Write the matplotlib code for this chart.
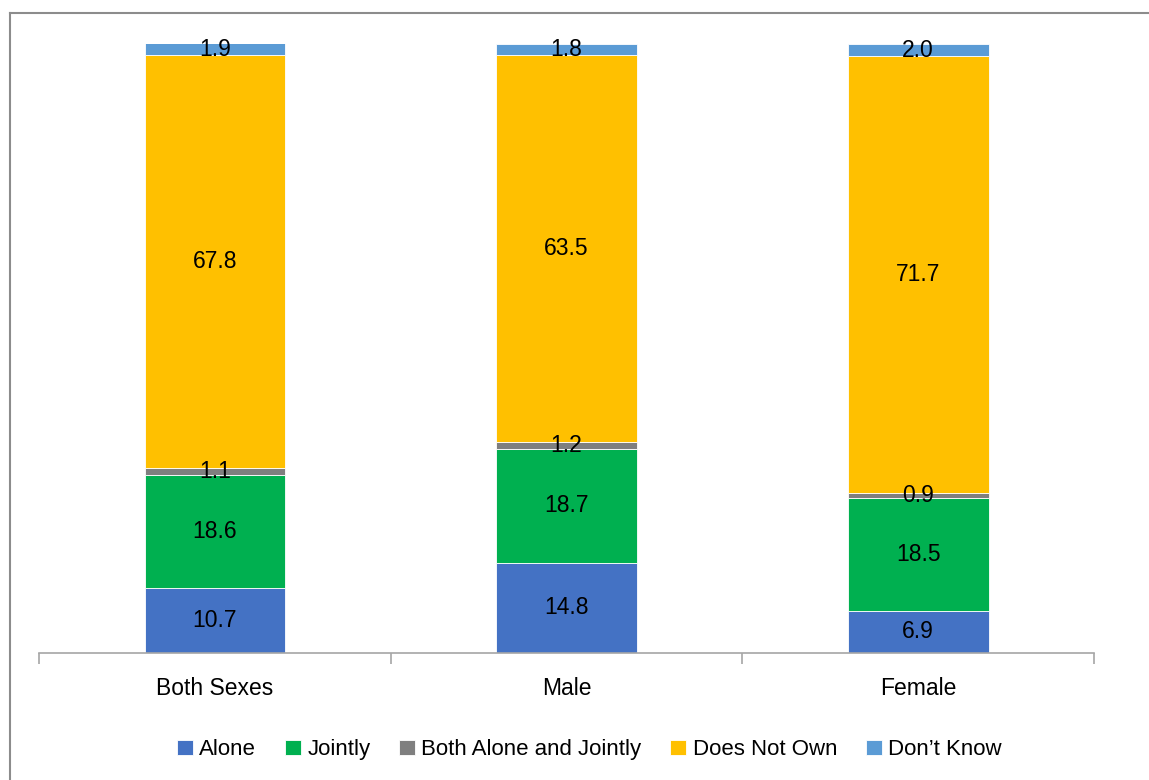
import matplotlib.pyplot as plt
import matplotlib.lines as mlines
import numpy as np

plt.rcParams["font.family"] = ["Liberation Sans Narrow", "Liberation Sans", "DejaVu Sans"]

categories = ["Both Sexes", "Male", "Female"]
series_names = ["Alone", "Jointly", "Both Alone and Jointly", "Does Not Own", "Don\u2019t Know"]
alone = [10.7, 14.8, 6.9]
jointly = [18.6, 18.7, 18.5]
both_alone_jointly = [1.1, 1.2, 0.9]
does_not_own = [67.8, 63.5, 71.7]
dont_know = [1.9, 1.8, 2.0]
colors = ["#4472C4", "#00B050", "#7F7F7F", "#FFC000", "#5B9BD5"]

fig = plt.figure(figsize=(11.49, 7.80), dpi=100)
ax = fig.add_axes([39 / 1149, 1 - 653 / 780, 1055 / 1149, 609 / 780])

x = np.arange(len(categories))
bottom = np.zeros(len(categories))
for name, vals, col in zip(series_names,
                           [alone, jointly, both_alone_jointly, does_not_own, dont_know],
                           colors):
    vals = np.array(vals)
    ax.bar(x, vals, 0.4, bottom=bottom, color=col, label=name,
           edgecolor="white", linewidth=0.6)
    for xi, b, v in zip(x, bottom, vals):
        ax.text(xi, b + v / 2, f"{v:.1f}", ha="center", va="center",
                fontsize=16.5, color="black")
    bottom += vals

ax.set_xlim(-0.5, 2.5)
ax.set_ylim(0, 100)
for s in ["top", "right", "left"]:
    ax.spines[s].set_visible(False)
ax.spines["bottom"].set_color("#A6A6A6")
ax.spines["bottom"].set_linewidth(1.2)
ax.set_yticks([])
ax.set_xticks(x)
ax.set_xticklabels(categories, fontsize=16.5)
ax.tick_params(axis="x", which="major", length=0, pad=17)
ax.set_xticks([-0.5, 0.5, 1.5, 2.5], minor=True)
ax.tick_params(axis="x", which="minor", length=8, color="#A6A6A6", width=1.2)

fig.legend(loc="center", bbox_to_anchor=(0.513, 0.039), ncol=5, frameon=False,
           fontsize=16, handlelength=0.7, handleheight=0.7, handletextpad=0.3,
           columnspacing=1.3)

bx = 10 / 1149
by = 1 - 13 / 780
fig.add_artist(mlines.Line2D([bx, bx], [0, by], color="#8C8C8C", lw=1.5,
                             transform=fig.transFigure))
fig.add_artist(mlines.Line2D([bx, 1], [by, by], color="#8C8C8C", lw=1.5,
                             transform=fig.transFigure))

fig.savefig("out.png", dpi=100)
